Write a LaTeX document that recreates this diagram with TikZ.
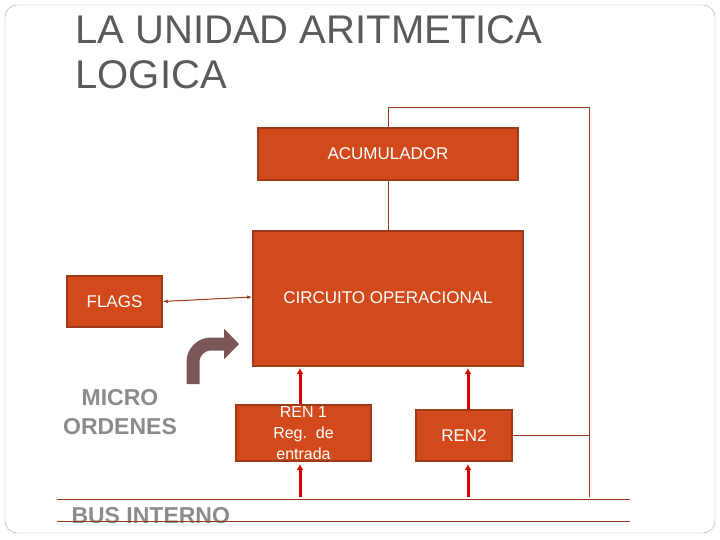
\documentclass[tikz,border=0pt]{standalone}
\usepackage{fontspec}
\setmainfont{Liberation Sans}
\usetikzlibrary{arrows.meta}
\definecolor{rojizo}{HTML}{D24A1B}
\definecolor{borde}{HTML}{9C3A1A}
\definecolor{gris}{HTML}{5A5A5A}
\definecolor{pardo}{HTML}{7B5757}
\begin{document}
\begin{tikzpicture}[x=1pt,y=-1pt,
    caja/.style={draw=borde, line width=1.5pt, fill=rojizo, text=white, font=\fontsize{17}{20}\selectfont},
    enlace/.style={draw=borde, line width=1pt},
    rojo/.style={draw=red!85!black, line width=3pt, -{Latex[length=6pt,width=7pt]}},
    gordo/.style={text=gris!70, draw=none, font=\bfseries\fontsize{23}{28}\selectfont}]
    \useasboundingbox (0,0) rectangle (720,540);
    \draw[gray!70, rounded corners=12pt] (5,5) rectangle (715,533);

    \node[anchor=north west, text=gris, align=left, font=\fontsize{40}{45}\selectfont] (titulo) at (72,12) {LA UNIDAD ARITMETICA\\LOGICA};

        \node[caja, minimum width=260, minimum height=52] (acu) at (388,154) {ACUMULADOR};
        \node[caja, minimum width=270, minimum height=135] (circ) at (388,298.5) {};
        \node[text=white, font=\fontsize{17}{20}\selectfont] (circtxt) at (388,298) {CIRCUITO OPERACIONAL};
        \node[caja, minimum width=95, minimum height=51] (flags) at (114.5,301.5) {FLAGS};
        \node[caja, minimum width=135, minimum height=56, align=center, inner sep=0pt, font=\fontsize{16}{21}\selectfont] (ren1) at (303.5,433) {REN 1\\Reg.\ \ de\\entrada};
        \node[caja, minimum width=96, minimum height=51] (ren2) at (464,435.5) {REN2};

        \node[gordo, align=center, font=\bfseries\fontsize{23}{29}\selectfont] (micro) at (120,412) {MICRO\\ORDENES};
        \node[gordo, anchor=west] (bus) at (68,516) {BUS INTERNO};

        \coordinate (esqA) at (388,108);
        \coordinate (esqB) at (589,108);
        \coordinate (busR) at (589,497);
        \coordinate (ren2R) at (589,435.5);

        \draw[enlace] (circ.north) -- (acu.south);
        \draw[enlace] (acu.north) -- (esqA) -- (esqB) -- (busR);
        \draw[enlace] (ren2.east) -- (ren2R);
        \draw[enlace, {Latex[length=5pt]}-{Latex[length=5pt]}] (flags.east) -- (circ.west |- 0,297);

        % linea del bus
        \draw[borde, line width=0.8pt] (57,499) -- (630,499);
        \draw[borde, line width=0.8pt] (57,521) -- (630,521);

        % flecha de las micro ordenes
        \draw[pardo, line width=13pt, -{Triangle[length=15pt,width=30pt]}] (193,384) -- (193,362) arc (180:270:18) -- (239,344);

        \foreach \x/\r in {300/ren1, 468/ren2}{
            \draw[rojo] (\x,0 |- \r.north) -- (\x,368);
            \draw[rojo] (\x,497) -- (\x,464);
        }
    \end{tikzpicture}
\end{document}
